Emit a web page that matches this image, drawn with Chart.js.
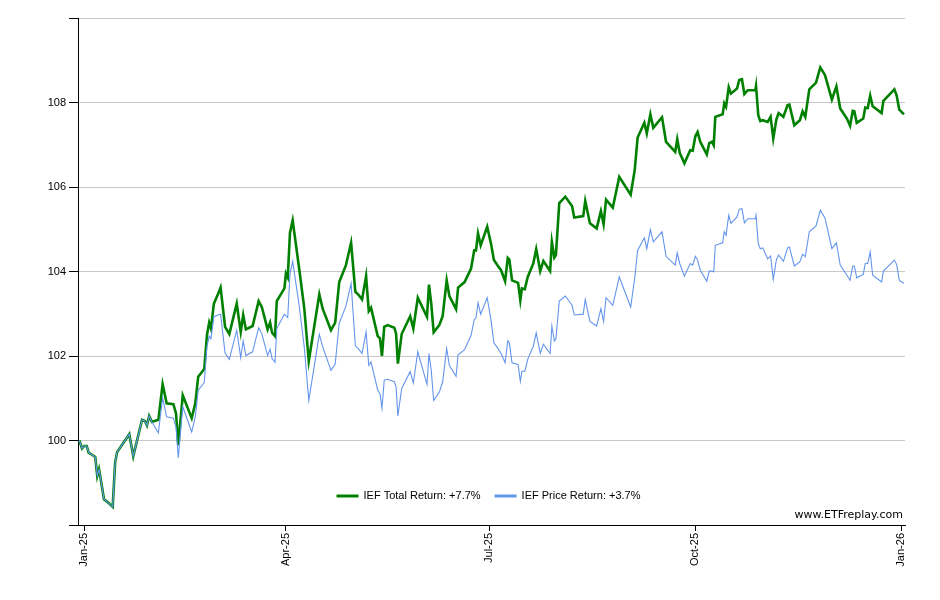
<!DOCTYPE html>
<html><head><meta charset="utf-8">
<script src="https://cdn.jsdelivr.net/npm/chart.js@4.4.1/dist/chart.umd.min.js"></script>
<style>html,body{margin:0;padding:0;background:#fff}canvas{display:block}</style>
</head><body>
<canvas id="c" width="940" height="600"></canvas>
<script>
// x values: days since 1 Jan 2025
const days=[-2.2,-1.0,0.0,1.1,2.0,3.0,4.9,5.8,6.6,7.3,
8.8,10.7,12.7,13.8,14.7,20.1,21.9,25.8,27.1,28.0,
29.0,30.2,33.1,35.0,36.8,39.8,41.0,42.0,44.0,48.0,
49.6,50.9,53.6,54.8,55.8,56.6,57.9,59.7,60.9,62.9,
64.8,68.1,69.9,71.0,72.2,75.2,77.9,79.3,81.9,83.0,
83.9,85.2,86.0,89.4,90.1,90.9,91.9,93.1,96.1,98.3,
100.3,105.0,106.5,110.2,112.1,113.9,116.9,119.2,121.1,122.3,
124.1,125.9,127.1,128.1,131.1,132.1,133.0,134.0,135.5,138.5,
139.3,140.1,141.8,145.6,147.0,149.0,153.1,154.0,155.0,156.1,
158.6,160.1,161.9,163.1,166.1,167.0,169.9,172.8,174.2,175.0,
175.9,177.1,180.0,181.7,183.0,184.8,186.2,188.0,189.2,189.9,
191.1,193.8,194.8,195.5,196.8,198.1,200.6,201.9,203.7,205.1,
208.1,208.9,210.0,210.7,212.2,214.9,217.9,218.9,222.9,223.8,
225.9,228.9,230.8,232.0,233.1,236.1,239.0,244.1,245.9,247.2,
250.2,251.3,252.9,254.2,258.1,259.9,264.0,264.9,266.0,268.1,
270.7,271.8,273.0,274.0,275.2,278.1,279.2,280.4,281.2,281.9,
285.2,285.9,286.7,287.9,288.9,291.6,292.6,293.8,294.9,296.4,
299.8,300.1,301.1,302.0,303.1,305.3,306.6,307.8,309.2,310.2,
312.3,314.2,315.0,317.2,319.7,320.9,322.1,323.9,326.9,328.8,
330.9,334.0,336.0,337.7,340.7,342.1,343.3,344.0,345.1,348.0,
348.9,350.0,351.1,352.2,356.2,357.0,361.9,362.9,364.1,366.2];

const totalReturn=[100.00,99.81,99.87,99.87,99.71,99.68,99.61,99.16,99.32,99.10,
98.61,98.53,98.43,99.49,99.73,100.15,99.63,100.49,100.46,100.36,
100.58,100.44,100.49,101.33,100.88,100.86,100.64,99.89,101.07,100.53,
100.88,101.51,101.69,102.49,102.79,102.65,103.24,103.46,103.62,102.69,
102.52,103.24,102.57,102.97,102.63,102.71,103.30,103.16,102.63,102.79,
102.55,102.47,103.30,103.60,103.95,103.86,104.92,105.21,104.03,103.12,
101.88,103.46,103.12,102.61,102.79,103.75,104.15,104.68,103.52,103.46,
103.34,103.89,103.06,103.14,102.47,102.42,102.00,102.69,102.73,102.67,
102.53,101.82,102.52,102.94,102.65,103.38,102.93,103.69,103.24,102.56,
102.73,102.94,103.79,103.42,103.11,103.62,103.75,104.07,104.50,104.50,
104.90,104.62,105.06,104.66,104.27,104.13,104.03,103.77,104.32,104.28,
103.79,103.73,103.32,103.60,103.58,103.87,104.19,104.53,104.01,104.25,
104.01,104.70,104.33,104.39,105.62,105.77,105.55,105.28,105.31,105.67,
105.14,105.02,105.43,105.12,105.70,105.51,106.24,105.82,106.40,107.17,
107.52,107.27,107.72,107.40,107.65,107.07,106.83,107.13,106.81,106.56,
106.87,106.86,107.20,107.30,107.07,106.77,107.04,107.07,106.99,107.66,
107.72,107.98,107.90,108.36,108.21,108.33,108.53,108.55,108.20,108.29,
108.29,108.39,107.70,107.56,107.58,107.54,107.66,107.15,107.60,107.75,
107.66,107.94,107.95,107.46,107.58,107.79,107.66,108.31,108.47,108.83,
108.65,108.07,108.38,107.86,107.62,107.45,107.80,107.79,107.52,107.62,
107.88,107.87,108.16,107.91,107.75,108.04,108.31,108.17,107.83,107.72];

const priceReturn=[100.00,99.81,99.87,99.87,99.71,99.68,99.61,99.16,99.32,99.10,
98.61,98.53,98.43,99.49,99.73,100.15,99.63,100.49,100.46,100.36,
100.58,100.44,100.18,101.01,100.56,100.53,100.32,99.59,100.80,100.20,
100.56,101.19,101.37,102.22,102.47,102.41,102.93,102.97,102.99,102.07,
101.92,102.61,101.96,102.36,102.01,102.10,102.67,102.53,102.01,102.16,
101.94,101.85,102.65,102.99,102.95,102.91,103.95,104.24,103.16,102.20,
100.95,102.51,102.22,101.66,101.81,102.78,103.18,103.72,102.24,102.18,
102.06,102.57,101.78,101.86,101.19,101.11,100.76,101.43,101.45,101.39,
101.27,100.58,101.23,101.63,101.36,102.10,101.33,102.06,101.66,100.95,
101.14,101.39,102.18,101.78,101.52,102.03,102.15,102.49,102.86,102.90,
103.26,102.99,103.38,102.85,102.31,102.18,102.06,101.84,102.36,102.31,
101.84,101.80,101.40,101.64,101.64,101.92,102.23,102.55,102.06,102.28,
102.06,102.71,102.36,102.41,103.30,103.42,103.20,102.97,102.99,103.34,
102.82,102.71,103.12,102.82,103.38,103.20,103.87,103.16,103.84,104.50,
104.80,104.54,104.99,104.70,104.94,104.36,104.15,104.44,104.19,103.89,
104.19,104.15,104.36,104.27,104.03,103.77,104.01,104.01,103.99,104.62,
104.68,104.94,104.86,105.33,105.14,105.29,105.47,105.49,105.15,105.25,
105.25,105.33,104.66,104.54,104.56,104.30,104.37,103.81,104.28,104.39,
104.24,104.56,104.58,104.13,104.23,104.41,104.35,104.94,105.08,105.45,
105.27,104.54,104.68,104.15,103.91,103.79,104.13,104.13,103.85,103.93,
104.19,104.19,104.46,103.91,103.75,104.01,104.27,104.17,103.79,103.72];

const tickDays=[0,90,181,273,365];
const tickLabels=['Jan-25','Apr-25','Jul-25','Oct-25','Jan-26'];
const seriesNames=['IEF Total Return: +7.7%','IEF Price Return: +3.7%'];
const watermark='www.ETFreplay.com';

const FONT='"Liberation Sans", Arial, sans-serif';

const overlay={
  id:'overlay',
  afterDraw(chart){
    const ctx=chart.ctx, a=chart.chartArea;
    ctx.save();
    ctx.font='11px '+FONT;
    ctx.textBaseline='middle';
    const items=chart.data.datasets.map(ds=>({t:ds.label,c:ds.borderColor}));
    const sample=22, gap=5, sep=14;
    let total=0;
    items.forEach((it,i)=>{it.w=ctx.measureText(it.t).width; total+=sample+gap+it.w+(i?sep:0);});
    let x=(a.left+a.right)/2-3-total/2;
    const y=a.bottom-29;
    items.forEach((it,i)=>{
      if(i) x+=sep;
      ctx.strokeStyle=it.c; ctx.lineWidth=3;
      ctx.beginPath(); ctx.moveTo(x,y); ctx.lineTo(x+sample,y); ctx.stroke();
      x+=sample+gap;
      ctx.fillStyle='#000'; ctx.textAlign='left';
      ctx.fillText(it.t,x,y);
      x+=it.w;
    });
    ctx.font='11px "DejaVu Sans", Verdana, sans-serif';
    ctx.textAlign='right';
    ctx.fillStyle='#000';
    ctx.fillText(watermark,a.right-2,a.bottom-10);
    ctx.restore();
  }
};

new Chart(document.getElementById('c'),{
  type:'line',
  data:{
    datasets:[
      {label:seriesNames[0],data:days.map((d,i)=>({x:d,y:totalReturn[i]})),borderColor:'#008000',borderWidth:2.6,pointRadius:0,tension:0,fill:false,order:2},
      {label:seriesNames[1],data:days.map((d,i)=>({x:d,y:priceReturn[i]})),borderColor:'#6495ED',borderWidth:1.1,pointRadius:0,tension:0,fill:false,order:1}
    ]
  },
  options:{
    responsive:false,
    animation:false,
    devicePixelRatio:1,
    layout:{padding:{left:0,right:35,top:18,bottom:0}},
    plugins:{legend:{display:false},tooltip:{enabled:false}},
    scales:{
      x:{
        type:'linear',min:-2.8,max:366.65,
        afterBuildTicks:ax=>{ax.ticks=tickDays.map(v=>({value:v}));},
        afterFit:s=>{s.height=75;},
        ticks:{autoSkip:false,minRotation:90,maxRotation:90,padding:2,color:'#000',font:{family:FONT,size:11},
          callback:v=>{const i=tickDays.indexOf(v);return i<0?'':tickLabels[i];}},
        grid:{drawOnChartArea:false,tickLength:6,tickColor:'#000',tickWidth:1},
        border:{color:'#000',width:1}
      },
      y:{
        min:98,max:110,
        afterFit:s=>{s.width=78;},
        ticks:{stepSize:2,padding:3,color:'#000',font:{family:FONT,size:11},
          callback:v=>(v===98||v===110)?'':String(v)},
        grid:{color:c=>(c.tick&&c.tick.value===98)?'rgba(0,0,0,0)':'#c8c8c8',tickColor:'#000',tickLength:9,lineWidth:1},
        border:{color:'#000',width:1}
      }
    }
  },
  plugins:[overlay]
});
</script>
</body></html>
